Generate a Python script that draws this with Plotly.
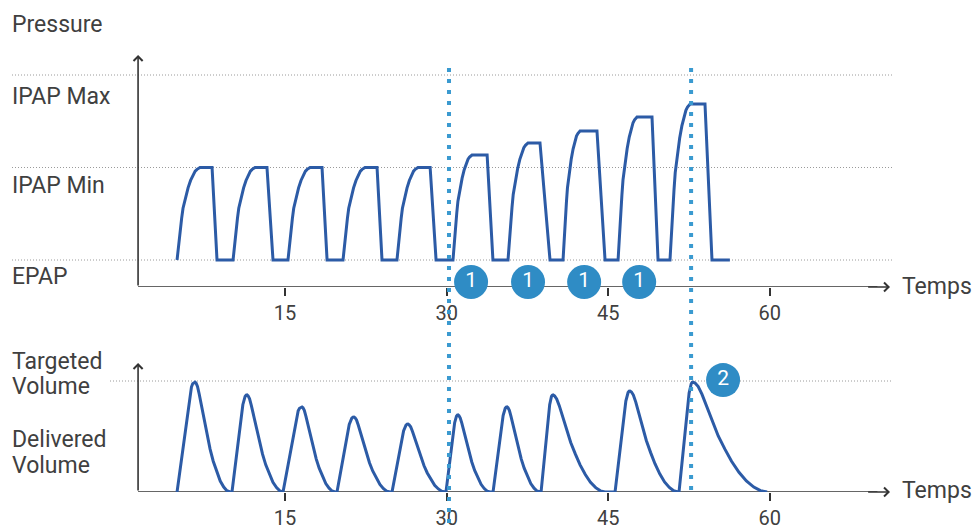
import plotly.graph_objects as go

# ---------------- data ----------------
# time axis ticks
tick_vals = [15, 30, 45, 60]
tick_text = ["15", "30", "45", "60"]

# pressure levels (arbitrary units)
EPAP, IPAP_MIN, IPAP_MAX = 5, 15, 25

# pressure breaths: rise start, top reached, fall start, fall end, peak value
p_start = [4.97, 10.17, 15.27, 20.38, 25.39, 30.59, 35.70, 40.81, 45.92, 50.74]
p_top = [7.10, 12.21, 17.32, 22.42, 27.34, 32.36, 37.56, 42.39, 47.68, 52.61]
p_fall = [8.22, 13.32, 18.43, 23.54, 28.47, 33.76, 38.67, 43.96, 49.07, 53.99]
p_low = [8.68, 13.88, 18.90, 24.00, 29.02, 34.30, 39.60, 44.71, 49.63, 54.64]
p_peak = [15.0, 15.0, 15.0, 15.0, 15.0, 16.35, 17.65, 18.95, 20.46, 21.86]
p_end = 56.3
# shape of a pressure rise (fraction of rise time -> fraction of rise height)
p_rise_t = [0, 0.06, 0.13, 0.2, 0.26, 0.37, 0.48, 0.59, 0.70, 0.79, 0.87, 0.94, 1.0]
p_rise_v = [0, 0.16, 0.31, 0.45, 0.56, 0.68, 0.78, 0.86, 0.92, 0.96, 0.98, 0.995, 1.0]

# volume (arbitrary units, targeted volume = 500)
TARGET_VOL = 500
v_start = [4.97, 10.07, 14.81, 19.82, 24.93, 29.94, 34.31, 38.77, 45.64, 51.58]
v_peak_t = [6.64, 11.47, 16.57, 21.40, 26.42, 31.06, 35.61, 39.88, 47.03, 52.88]
v_end = [9.89, 14.81, 19.64, 24.74, 29.85, 34.03, 38.67, 44.71, 51.48, 59.76]
v_peak = [495, 437, 383, 338, 306, 347, 383, 437, 455, 495]
# shape of a volume breath (rise and decay)
v_rise_t = [0, 0.72, 0.80, 0.87, 0.94, 1.0]
v_rise_v = [0, 0.90, 0.955, 0.985, 0.998, 1.0]
v_decay_t = [0, 0.03, 0.07, 0.12, 0.18, 0.25, 0.34, 0.43, 0.52, 0.62, 0.72, 0.82, 0.91, 1.0]
v_decay_v = [1, 0.99, 0.96, 0.89, 0.79, 0.66, 0.51, 0.39, 0.28, 0.18, 0.10, 0.045, 0.012, 0]

# events
event1_t = [32.27, 37.56, 42.77, 47.88]
event1_p = [2.62, 2.62, 2.62, 2.62]
event2_t = [55.67]
event2_v = [504]
vlines_t = [30.22, 52.70]

# ---------------- build traces ----------------
px, py = [], []
for s, tp, f, lo, pk in zip(p_start, p_top, p_fall, p_low, p_peak):
    for ft, fv in zip(p_rise_t, p_rise_v):
        px.append(s + ft * (tp - s))
        py.append(EPAP + fv * (pk - EPAP))
    px += [f, lo]
    py += [pk, EPAP]
px.append(p_end)
py.append(EPAP)

vx, vy = [], []
for s, pt, e, pk in zip(v_start, v_peak_t, v_end, v_peak):
    for ft, fv in zip(v_rise_t, v_rise_v):
        vx.append(s + ft * (pt - s))
        vy.append(fv * pk)
    for ft, fv in zip(v_decay_t[1:], v_decay_v[1:]):
        vx.append(pt + ft * (e - pt))
        vy.append(fv * pk)

LINE = "#2c5ba6"
TXT = "#404040"
AXC = "#333333"
DOTBLUE = "#3a9ad0"
CIRCLE = "#2f8cc5"
FONT = "Roboto"

W, H = 978, 530
fig = go.Figure()
fig.add_trace(go.Scatter(x=px, y=py, mode="lines", line=dict(color=LINE, width=3),
                         xaxis="x", yaxis="y", hoverinfo="skip"))
fig.add_trace(go.Scatter(x=vx, y=vy, mode="lines", line=dict(color=LINE, width=3),
                         xaxis="x2", yaxis="y2", hoverinfo="skip"))

# layout geometry
x_range = [-11.47, 79.34]
top_dom = [1 - 287 / H, 1.0]
bot_dom = [1 - 492 / H, 1 - 287 / H]
y_range = [2.081, 33.108]
y2_range = [0, 923.4]

axis_common = dict(range=x_range, showgrid=False, zeroline=False, showline=False,
                   ticks="outside", ticklen=8, tickwidth=1.5, tickcolor=AXC,
                   tickvals=tick_vals, ticktext=tick_text,
                   tickfont=dict(family=FONT, size=20, color=TXT))

x0_axis = 1.35
x1_axis = 71.17

shapes = []
# dotted reference lines
for lvl in [EPAP, IPAP_MIN, IPAP_MAX]:
    shapes.append(dict(type="line", xref="paper", yref="y", x0=12 / W, x1=893 / W, y0=lvl, y1=lvl,
                       line=dict(color="#9a9a9a", width=1, dash="1px,2px"), layer="below"))
shapes.append(dict(type="line", xref="paper", yref="y2", x0=110 / W, x1=893 / W,
                   y0=TARGET_VOL, y1=TARGET_VOL,
                   line=dict(color="#9a9a9a", width=1, dash="1px,2px"), layer="below"))
# time axis lines (drawn below the marks)
shapes.append(dict(type="line", xref="x", yref="y", x0=x0_axis, x1=70.0,
                   y0=y_range[0], y1=y_range[0], line=dict(color=AXC, width=1.6), layer="below"))
shapes.append(dict(type="line", xref="x2", yref="y2", x0=x0_axis, x1=70.0,
                   y0=0, y1=0, line=dict(color=AXC, width=1.6), layer="below"))
# blue event lines
shapes.append(dict(type="line", xref="x", yref="paper", x0=vlines_t[0], x1=vlines_t[0],
                   y1=0, y0=1 - 68 / H, line=dict(color=DOTBLUE, width=4, dash="4px,7px"),
                   layer="above"))
shapes.append(dict(type="line", xref="x", yref="paper", x0=vlines_t[1], x1=vlines_t[1],
                   y1=1 - 492 / H, y0=1 - 68 / H, line=dict(color=DOTBLUE, width=4, dash="4px,7px"),
                   layer="above"))

# event markers
fig.add_trace(go.Scatter(x=event1_t, y=event1_p, mode="markers+text", text=["1"] * len(event1_t),
                         textposition="middle center", cliponaxis=False,
                         textfont=dict(family=FONT, size=21, color="white"),
                         marker=dict(size=34, color=CIRCLE), xaxis="x", yaxis="y", hoverinfo="skip"))
fig.add_trace(go.Scatter(x=event2_t, y=event2_v, mode="markers+text", text=["2"],
                         textposition="middle center", cliponaxis=False,
                         textfont=dict(family=FONT, size=21, color="white"),
                         marker=dict(size=34, color=CIRCLE), xaxis="x2", yaxis="y2", hoverinfo="skip"))

ann = []
def label(text, x, y, size=23):
    ann.append(dict(text=text, xref="paper", yref="paper", x=x / W, y=1 - y / H,
                    xanchor="left", yanchor="middle", showarrow=False, align="left",
                    font=dict(family=FONT, size=size, color=TXT)))

label("Pressure", 10, 25)
label("IPAP Max", 10, 97)
label("IPAP Min", 10, 185)
label("EPAP", 10, 276)
label("Targeted", 10, 361)
label("Volume", 10, 386)
label("Delivered", 10, 439)
label("Volume", 10, 465)
label("Temps", 900, 286)
label("Temps", 900, 490)

# axis arrows
def arrow(xr, yr, x, y, ax, ay):
    ann.append(dict(text="", xref=xr, yref=yr, axref=xr, ayref=yr, x=x, y=y, ax=ax, ay=ay,
                    showarrow=True, arrowhead=4, arrowsize=1.1, arrowwidth=1.6,
                    arrowcolor=AXC, standoff=0, startstandoff=0))

arrow("x", "y", x1_axis, y_range[0], 69.0, y_range[0])
arrow("x", "y", x0_axis, 27.16, x0_axis, y_range[0])
arrow("x2", "y2", x1_axis, 0, 69.0, 0)
arrow("x2", "y2", x0_axis, 581, x0_axis, 0)

fig.update_layout(
    width=W, height=H, margin=dict(l=0, r=0, t=0, b=0, pad=0),
    paper_bgcolor="white", plot_bgcolor="white", showlegend=False,
    xaxis=dict(domain=[0, 1], anchor="y", fixedrange=True, **axis_common),
    xaxis2=dict(domain=[0, 1], anchor="y2", fixedrange=True, **axis_common),
    yaxis=dict(domain=top_dom, range=y_range, visible=False, fixedrange=True),
    yaxis2=dict(domain=bot_dom, range=y2_range, visible=False, fixedrange=True),
    shapes=shapes, annotations=ann,
)

fig.write_html("out.html", config={"displayModeBar": False},
               post_script="document.body.style.margin='0';document.body.style.overflow='hidden';")
